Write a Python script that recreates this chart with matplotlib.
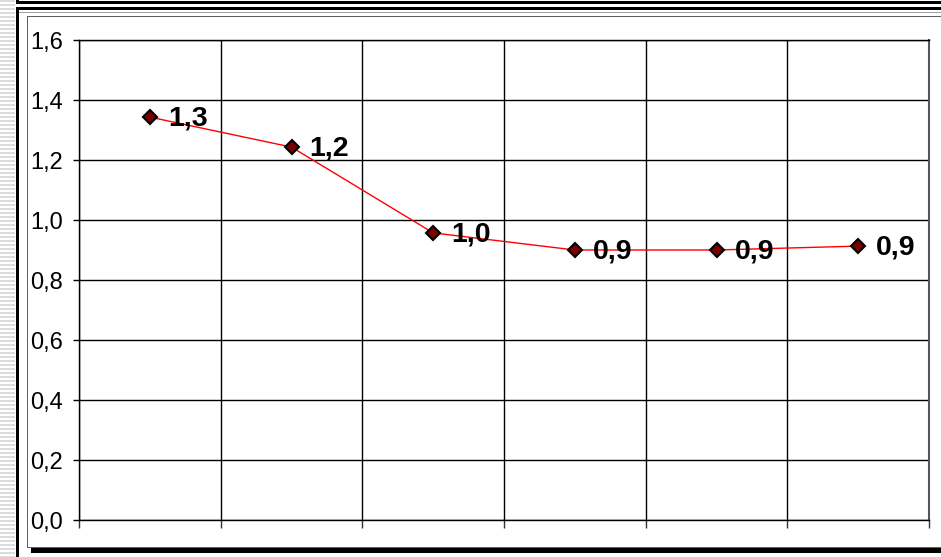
import matplotlib
matplotlib.use("Agg")
import matplotlib.pyplot as plt
from matplotlib.patches import Rectangle
import numpy as np

categories = ["1", "2", "3", "4", "5", "6"]
values = [1.343, 1.243, 0.957, 0.900, 0.900, 0.913]
labels = ["1,3", "1,2", "1,0", "0,9", "0,9", "0,9"]
yticks = [0.0, 0.2, 0.4, 0.6, 0.8, 1.0, 1.2, 1.4, 1.6]
ytick_labels = ["0,0", "0,2", "0,4", "0,6", "0,8", "1,0", "1,2", "1,4", "1,6"]

FONT = ["Liberation Sans", "DejaVu Sans"]

W, H = 941, 557
fig = plt.figure(figsize=(W / 100, H / 100), dpi=100)
fig.patch.set_facecolor("white")

def px_rect(x, y, w, h, **kw):
    fig.add_artist(Rectangle((x / W, 1 - (y + h) / H), w / W, h / H,
                             transform=fig.transFigure, **kw))

# left striped pattern
for yy in range(0, H, 4):
    px_rect(0, yy, 15, 2, facecolor="#dcdcdc", edgecolor="none")

# top thick lines
px_rect(16, 1, W - 16, 3, facecolor="black", edgecolor="none")
px_rect(16, 0, 3, 4, facecolor="black", edgecolor="none")
px_rect(16, 7, W - 16, 3, facecolor="black", edgecolor="none")
px_rect(16, 12, W - 16, 1, facecolor="#a0a0a0", edgecolor="none")
# left thick vertical
px_rect(16, 7, 3, H - 7, facecolor="black", edgecolor="none")
# inner frame
px_rect(27, 16, W - 27, 1, facecolor="#606060", edgecolor="none")
px_rect(27, 16, 1, 532, facecolor="#606060", edgecolor="none")
px_rect(27, 547, W - 27, 1, facecolor="#606060", edgecolor="none")
# bottom shadow
px_rect(31, 548, W - 31, 5, facecolor="black", edgecolor="none")

left, right, top, bottom = 79, 929, 40, 520
ax = fig.add_axes([left / W, 1 - bottom / H, (right - left) / W, (bottom - top) / H])
x = np.arange(len(categories))
ax.plot(x, values, color="red", lw=1, zorder=3)
ax.plot(x, values, linestyle="none", marker="D", markersize=7.5,
        markerfacecolor="#7a0000", markeredgecolor="black", markeredgewidth=1.5, zorder=4)
for xi, v, lab in zip(x, values, labels):
    ax.annotate(lab, (xi, v), xytext=(13, -1), textcoords="offset points",
                ha="left", va="center", fontsize=20.5, fontweight="bold",
                family=FONT, color="black", zorder=5)

ax.set_xlim(-0.5, len(categories) - 0.5)
ax.set_ylim(0, 1.6)
ax.set_yticks(yticks)
ax.set_yticklabels(ytick_labels, family=FONT, fontsize=17)
ax.set_xticks(np.arange(-0.5, len(categories)))
ax.set_xticklabels([])
ax.tick_params(axis="y", length=4.5, width=1, color="black", pad=7, direction="out")
ax.tick_params(axis="x", length=6, width=1, color="#333333", direction="out")
ax.grid(True, color="black", lw=1)
ax.set_axisbelow(True)
for s in ax.spines.values():
    s.set_color("black")
    s.set_linewidth(1)
ax.spines["right"].set_color("#555555")
ax.spines["right"].set_linewidth(1.5)

fig.savefig("out.png", dpi=100)
